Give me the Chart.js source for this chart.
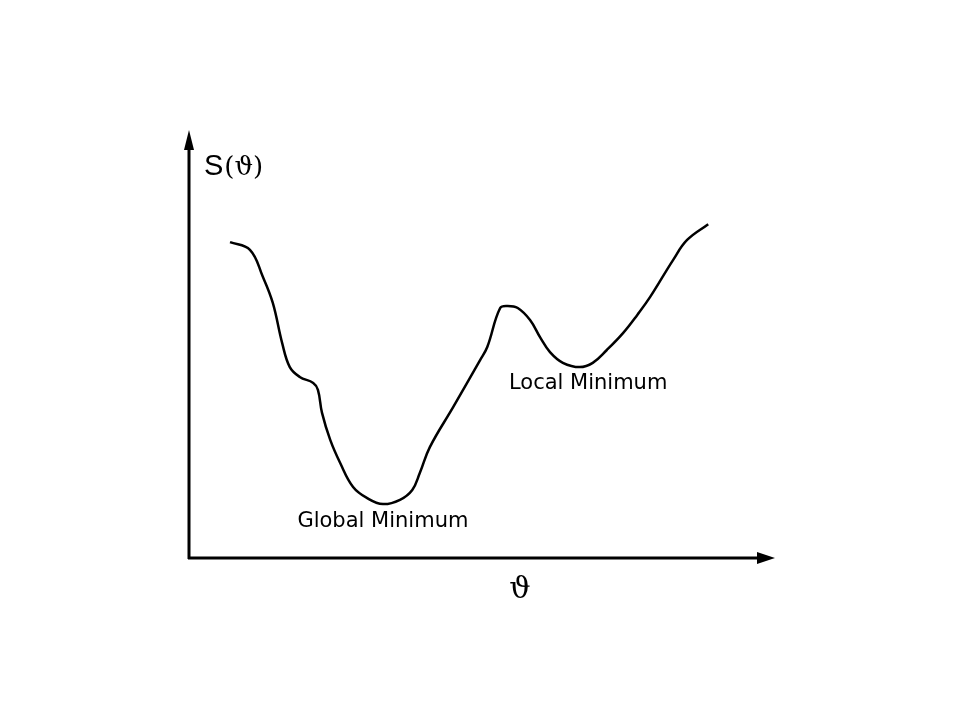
<!DOCTYPE html>
<html>
<head>
<meta charset="utf-8">
<script src="https://cdn.jsdelivr.net/npm/chart.js@4.4.1/dist/chart.umd.min.js"></script>
<style>
html,body{margin:0;padding:0;background:#fff;}
#wrap{width:960px;height:720px;position:relative;}
</style>
</head>
<body>
<div id="wrap"><canvas id="c" width="960" height="720"></canvas></div>
<script>
// Parameter (theta) positions along the curve, arbitrary units 0..100
const thetaValues = [7.0,10.4,12.6,14.3,15.9,17.2,18.9,21.2,22.0,22.7,24.1,25.8,28.0,30.4,33.1,36.0,38.1,39.4,41.1,45.1,49.7,50.9,53.1,54.4,56.1,58.2,59.9,61.6,63.8,66.7,68.9,71.3,74.1,76.5,78.7,82.6,85.0,88.6];
// Objective S(theta), arbitrary units 0..100
const sValues = [73.8,72.0,65.7,59.6,50.2,44.6,42.3,40.9,39.3,33.9,27.6,22.2,16.6,14.0,12.6,13.6,15.9,19.9,25.9,35.3,46.3,49.3,58.4,58.9,58.4,55.6,51.6,48.1,45.6,44.6,45.6,48.6,52.6,56.8,61.0,69.6,74.3,78.0];
const yAxisLabel = "S(ϑ)";
const xAxisLabel = "ϑ";
const annotations = [
  {text: "Local Minimum", x: 54.6, y: 39.5},
  {text: "Global Minimum", x: 18.5, y: 7.2}
];

const points = thetaValues.map((t, i) => ({x: t, y: sValues[i]}));

const axesPlugin = {
  id: 'axesArrows',
  afterDraw(chart) {
    const ctx = chart.ctx;
    const xs = chart.scales.x, ys = chart.scales.y;
    const x0 = xs.getPixelForValue(0), y0 = ys.getPixelForValue(0);
    const xEnd = xs.getPixelForValue(100), yEnd = ys.getPixelForValue(100);
    ctx.save();
    ctx.strokeStyle = '#000';
    ctx.fillStyle = '#000';
    ctx.lineWidth = 3;
    // y axis
    ctx.beginPath();
    ctx.moveTo(x0, y0 + 1);
    ctx.lineTo(x0, yEnd + 12);
    ctx.stroke();
    ctx.beginPath();
    ctx.moveTo(x0, yEnd);
    ctx.lineTo(x0 - 5, yEnd + 20);
    ctx.lineTo(x0 + 5, yEnd + 20);
    ctx.closePath();
    ctx.fill();
    // x axis
    ctx.beginPath();
    ctx.moveTo(x0 - 1, y0);
    ctx.lineTo(xEnd - 12, y0);
    ctx.stroke();
    ctx.beginPath();
    ctx.moveTo(xEnd, y0);
    ctx.lineTo(xEnd - 18, y0 - 6);
    ctx.lineTo(xEnd - 18, y0 + 6);
    ctx.closePath();
    ctx.fill();
    // axis labels
    ctx.textBaseline = 'alphabetic';
    ctx.textAlign = 'left';
    ctx.font = '29px "Liberation Sans", Arial, sans-serif';
    ctx.fillText('S', x0 + 15, yEnd + 45);
    const sW = ctx.measureText('S').width;
    ctx.font = '26px "DejaVu Serif", "Liberation Serif", serif';
    ctx.fillText(yAxisLabel.slice(1), x0 + 15 + sW + 1, yEnd + 45);
    ctx.font = '30px "DejaVu Serif", "Liberation Serif", serif';
    ctx.textAlign = 'center';
    ctx.fillText(xAxisLabel, xs.getPixelForValue(56.5), y0 + 40);
    // annotations
    ctx.textAlign = 'left';
    ctx.font = '21px "DejaVu Sans", Verdana, sans-serif';
    annotations.forEach(a => {
      ctx.fillText(a.text, xs.getPixelForValue(a.x), ys.getPixelForValue(a.y));
    });
    ctx.restore();
  }
};

new Chart(document.getElementById('c'), {
  type: 'scatter',
  data: {
    datasets: [{
      data: points,
      showLine: true,
      borderColor: '#000',
      borderWidth: 2.5,
      pointRadius: 0,
      tension: 0.4,
      fill: false
    }]
  },
  options: {
    responsive: false,
    animation: false,
    layout: {padding: {left: 189, right: 185, top: 130, bottom: 162}},
    plugins: {legend: {display: false}, tooltip: {enabled: false}},
    scales: {
      x: {type: 'linear', min: 0, max: 100, display: false},
      y: {type: 'linear', min: 0, max: 100, display: false}
    }
  },
  plugins: [axesPlugin]
});
</script>
</body>
</html>
